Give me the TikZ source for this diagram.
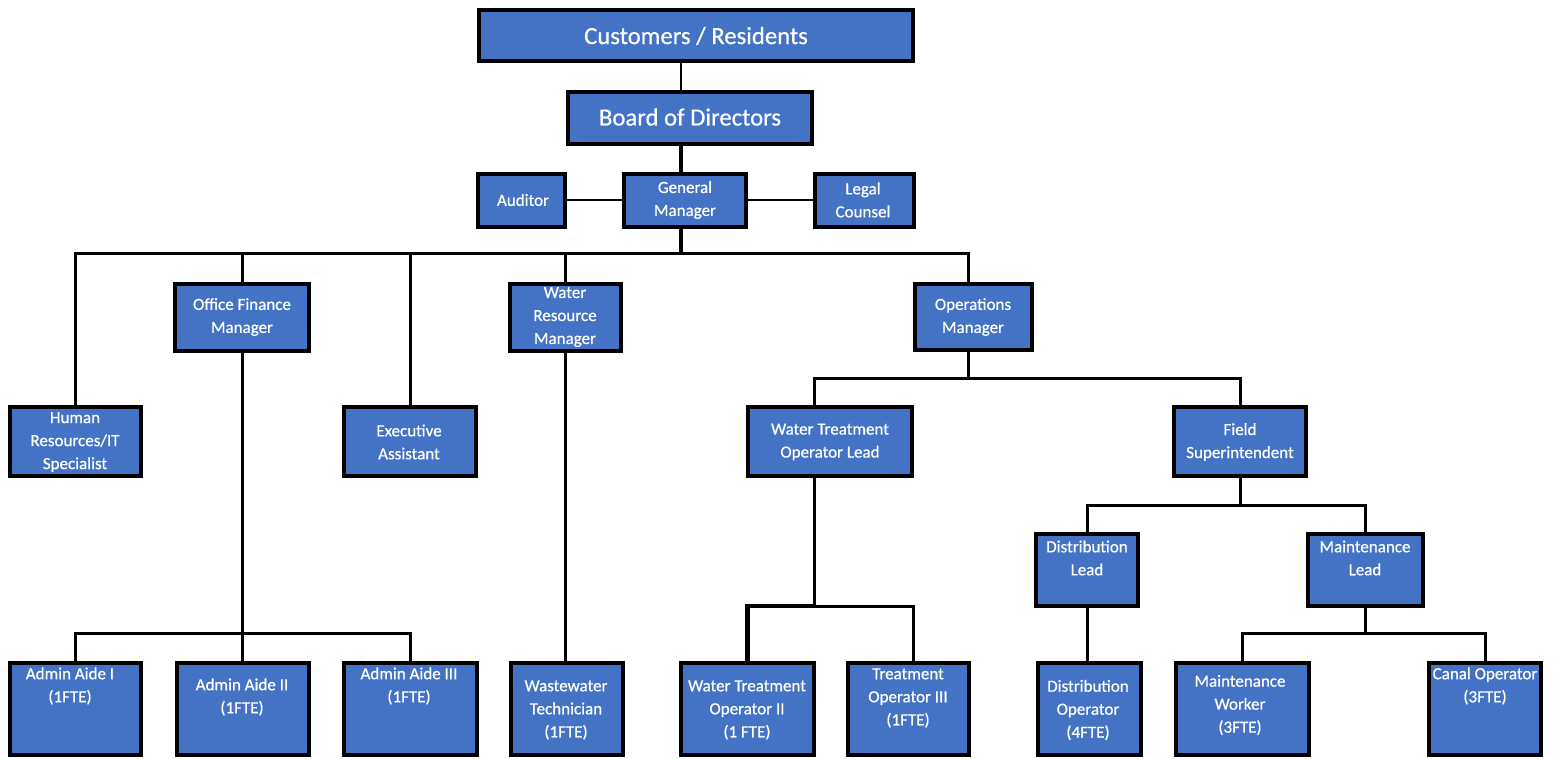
\documentclass[tikz,border=0pt]{standalone}
\usepackage{fontspec}
\setmainfont{Carlito}[FakeBold=0.6]
\definecolor{boxblue}{RGB}{68,114,196}
\begin{document}
\begin{tikzpicture}[x=1pt,y=-1pt,
  box/.style={draw=black,line width=3.8pt,fill=boxblue,inner sep=0pt,outer sep=0pt},
  txt/.style={text=white,align=center,font=\fontsize{17}{23}\selectfont,inner sep=0pt},
  bigtxt/.style={text=white,align=center,font=\fontsize{24.7}{30}\selectfont,inner sep=0pt},
  con/.style={line width=3pt,draw=black},
  thincon/.style={line width=2pt,draw=black},
  thickcon/.style={line width=4.5pt,draw=black}]
\useasboundingbox (0,0) rectangle (1554,759);
\fill[white] (0,0) rectangle (1554,759);
% boxes
\node[box,minimum width=434pt,minimum height=51pt] (cust) at (696,35.5) {};
\node[box,minimum width=244pt,minimum height=52pt] (board) at (690,118) {};
\node[box,minimum width=87pt,minimum height=53pt] (aud) at (521.5,200.5) {};
\node[box,minimum width=122pt,minimum height=53pt] (gm) at (685,200.5) {};
\node[box,minimum width=99pt,minimum height=53pt] (legal) at (864.5,200.5) {};
\node[box,minimum width=131pt,minimum height=69pt] (hr) at (75.5,441.5) {};
\node[box,minimum width=134pt,minimum height=67pt] (ofm) at (242,317.5) {};
\node[box,minimum width=132pt,minimum height=69pt] (ea) at (410,441.5) {};
\node[box,minimum width=111pt,minimum height=67pt] (wrm) at (565.5,317.5) {};
\node[box,minimum width=117pt,minimum height=66pt] (ops) at (973.5,317) {};
\node[box,minimum width=164pt,minimum height=69pt] (wtl) at (830,441.5) {};
\node[box,minimum width=132pt,minimum height=69pt] (fs) at (1240,441.5) {};
\node[box,minimum width=102pt,minimum height=72pt] (dl) at (1087,570) {};
\node[box,minimum width=115pt,minimum height=72pt] (ml) at (1365.5,570) {};
\node[box,minimum width=131pt,minimum height=92pt] (aa1) at (75.5,709) {};
\node[box,minimum width=132pt,minimum height=92pt] (aa2) at (243,709) {};
\node[box,minimum width=133pt,minimum height=92pt] (aa3) at (410.5,709) {};
\node[box,minimum width=112pt,minimum height=92pt] (ww) at (567,709) {};
\node[box,minimum width=133pt,minimum height=92pt] (wt2) at (747.5,709) {};
\node[box,minimum width=121pt,minimum height=92pt] (to3) at (908.5,709) {};
\node[box,minimum width=103pt,minimum height=92pt] (do) at (1089.5,709) {};
\node[box,minimum width=133pt,minimum height=92pt] (mw) at (1242.5,709) {};
\node[box,minimum width=112pt,minimum height=92pt] (co) at (1485,709) {};
% texts
\node[bigtxt] (custT) at (696,36) {Customers / Residents};
\node[bigtxt] (boardT) at (690,117) {Board of Directors};
\node[txt] (audT) at (523,200) {Auditor};
\node[txt] (gmT) at (685,200) {General\\Manager};
\node[txt] (legalT) at (863,200) {Legal\\Counsel};
\node[txt] (ofmT) at (242,317) {Office Finance\\Manager};
\node[txt] (wrmT) at (565,317) {Water\\Resource\\Manager};
\node[txt] (opsT) at (973,317) {Operations\\Manager};
\node[txt] (hrT) at (75,442) {Human\\Resources/IT\\Specialist};
\node[txt] (eaT) at (409,442) {Executive\\Assistant};
\node[txt] (wtlT) at (830,442) {Water Treatment\\Operator Lead};
\node[txt] (fsT) at (1240,442) {Field\\Superintendent};
\node[txt] (dlT) at (1087,558) {Distribution\\Lead};
\node[txt] (mlT) at (1365,558) {Maintenance\\Lead};
\node[txt] (aa1T) at (70,686) {Admin Aide I\\(1FTE)};
\node[txt] (aa2T) at (242,697) {Admin Aide II\\(1FTE)};
\node[txt] (aa3T) at (409,686) {Admin Aide III\\(1FTE)};
\node[txt] (wwT) at (566,710) {Wastewater\\Technician\\(1FTE)};
\node[txt] (wt2T) at (747,710) {Water Treatment\\Operator II\\(1 FTE)};
\node[txt] (to3T) at (908,698) {Treatment\\Operator III\\(1FTE)};
\node[txt] (doT) at (1088,710) {Distribution\\Operator\\(4FTE)};
\node[txt] (mwT) at (1240,705) {Maintenance\\Worker\\(3FTE)};
\node[txt] (coT) at (1485,686) {Canal Operator\\(3FTE)};
% helper coordinates
\coordinate (spine) at (681,0);
\coordinate (wtx) at (814,0);
\coordinate (bus1) at (0,254);
\coordinate (bus2) at (0,378);
\coordinate (bus3) at (0,606);
\coordinate (bus4) at (0,505);
\coordinate (bus5) at (0,633);
% connectors
\draw[thincon] (cust.south -| spine) -- (board.north -| spine);
\draw[thickcon] (board.south -| spine) -- (gm.north -| spine);
\draw[thincon] (aud.east) -- (gm.west);
\draw[thincon] (gm.east) -- (legal.west);
\draw[thickcon] (gm.south -| spine) -- (spine |- bus1);
\draw[con] (hr.north) -- (hr.north |- bus1) -- ([xshift=-5.5pt]ops.north |- bus1) -- ([xshift=-5.5pt]ops.north);
\draw[con] (ofm.north) -- (ofm.north |- bus1);
\draw[con] (ea.north) -- (ea.north |- bus1);
\draw[con] (wrm.north) -- (wrm.north |- bus1);
\draw[con] ([xshift=-5.5pt]ops.south) -- ([xshift=-5.5pt]ops.south |- bus2);
\draw[con] (wtl.north -| wtx) -- (wtx |- bus2) -- (fs.north |- bus2) -- (fs.north);
\draw[con] (wtl.south -| wtx) -- (wtx |- bus3);
\draw[thickcon] (wt2.north) -- (wt2.north |- bus3) -- (wtx |- bus3);
\draw[con] (wtx |- bus3) -- ([xshift=4.5pt]to3.north |- bus3) -- ([xshift=4.5pt]to3.north);
\draw[con] (fs.south) -- (fs.south |- bus4);
\draw[con] (dl.north) -- (dl.north |- bus4) -- (ml.north |- bus4) -- (ml.north);
\draw[con] (dl.south) -- (dl.south |- do.north);
\draw[con] (ml.south) -- (ml.south |- bus5);
\draw[con] (mw.north) -- (mw.north |- bus5) -- (co.north |- bus5) -- (co.north);
\draw[con] (ofm.south) -- (ofm.south |- aa2.north);
\draw[con] (aa1.north) -- (aa1.north |- bus5) -- (aa3.north |- bus5) -- (aa3.north);
\draw[con] (wrm.south) -- (wrm.south |- ww.north);
\end{tikzpicture}
\end{document}
